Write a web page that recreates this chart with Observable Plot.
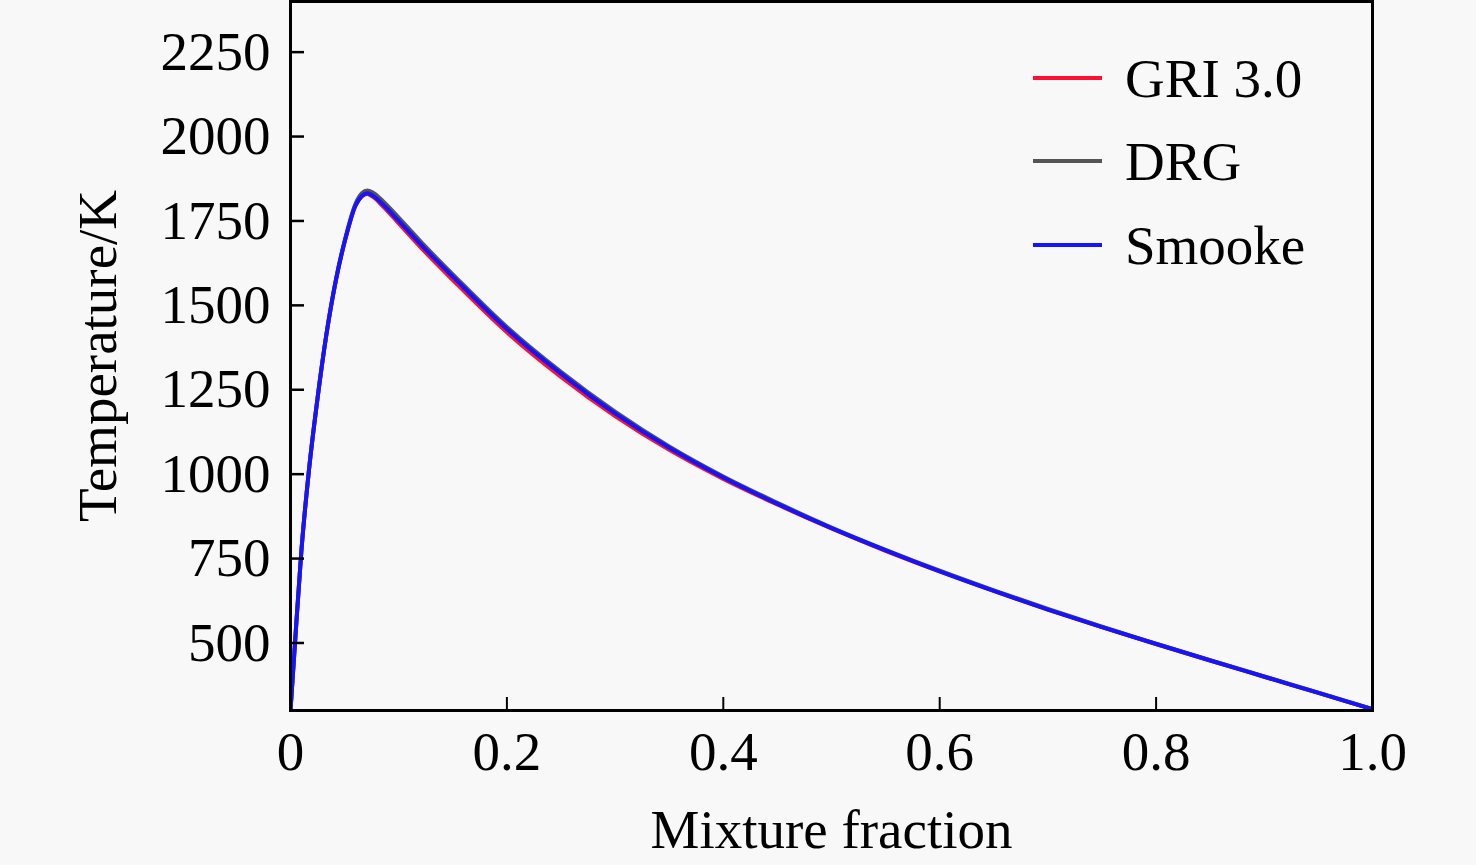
<!DOCTYPE html>
<html>
<head>
<meta charset="utf-8">
<script src="https://cdn.jsdelivr.net/npm/d3@7"></script>
<script src="https://cdn.jsdelivr.net/npm/@observablehq/plot@0.6"></script>
<style>
  html, body { margin: 0; padding: 0; background: #f8f8f8; }
  #wrap { position: relative; width: 1476px; height: 865px; }
  #legend { position: absolute; left: 0; top: 0; pointer-events: none; }
</style>
</head>
<body>
<div id="wrap"></div>
<script>
// ---- data ----
const mixtureFraction = [0, 0.005, 0.01, 0.017, 0.025, 0.033, 0.042, 0.051, 0.06, 0.066, 0.071, 0.076, 0.085, 0.10, 0.125, 0.15, 0.20, 0.25, 0.30, 0.35, 0.40, 0.45, 0.50, 0.55, 0.60, 0.65, 0.70, 0.75, 0.80, 0.85, 0.90, 0.95, 1.0];
const tempGRI    = [300, 540, 770, 1010, 1225, 1410, 1575, 1700, 1795, 1823, 1830, 1822, 1795, 1743, 1656, 1575, 1420, 1288, 1172, 1072, 986, 910, 839, 773, 712, 654, 599, 547, 497, 448, 400, 352, 304];
const tempDRG    = [300, 540, 770, 1010, 1225, 1410, 1577, 1703, 1800, 1832, 1840, 1834, 1810, 1760, 1673, 1592, 1436, 1303, 1185, 1082, 993, 915, 842, 776, 714, 656, 601, 548, 498, 449, 401, 353, 304];
const tempSmooke = [300, 540, 770, 1010, 1225, 1410, 1575, 1700, 1795, 1824, 1832, 1825, 1800, 1750, 1665, 1585, 1430, 1298, 1180, 1078, 990, 912, 840, 774, 712, 654, 599, 547, 497, 448, 400, 352, 304];
const seriesNames = ["GRI 3.0", "DRG", "Smooke"];
const seriesColors = ["#ff1030", "#555555", "#1414ff"];
const xTicks = [0, 0.2, 0.4, 0.6, 0.8, 1.0];
const xTickLabels = ["0", "0.2", "0.4", "0.6", "0.8", "1.0"];
const yTicks = [500, 750, 1000, 1250, 1500, 1750, 2000, 2250];

const allSeries = [tempGRI, tempDRG, tempSmooke];
const rows = (vals) => mixtureFraction.map((x, i) => ({x, T: vals[i]}));
const xLabelMap = new Map(xTicks.map((t, i) => [t, xTickLabels[i]]));

const W = 1476, H = 865;
const mL = 290, mR = 104, mT = 1, mB = 155;
const frameW = W - mL - mR, frameH = H - mT - mB;
const font = "'Liberation Serif', 'Times New Roman', Times, serif";

const chart = Plot.plot({
  width: W, height: H,
  marginLeft: mL, marginRight: mR, marginTop: mT, marginBottom: mB,
  style: {background: "#f8f8f8", fontFamily: font, fontSize: "55px", color: "black", overflow: "visible"},
  x: {domain: [0, 1]},
  y: {domain: [300, 2400]},
  marks: [
    Plot.axisX(xTicks, {tickSize: 0, tickPadding: 20, tickFormat: d => xLabelMap.get(d), label: "Mixture fraction", labelAnchor: "center", labelOffset: 137, labelArrow: "none", fontSize: 55}),
    Plot.axisY(yTicks, {tickSize: 0, tickPadding: 20, tickFormat: d => String(d), label: "Temperature/K", labelAnchor: "center", labelOffset: 214, labelArrow: "none", fontSize: 55}),
    ...allSeries.map((vals, k) => Plot.line(rows(vals), {x: "x", y: "T", stroke: seriesColors[k], strokeWidth: 4, curve: "monotone-x", clip: true})),
    Plot.tickY(yTicks, {y: d => d, stroke: "black", strokeWidth: 2.5, insetRight: frameW - 14}),
    Plot.tickX(xTicks, {x: d => d, stroke: "black", strokeWidth: 2, insetTop: frameH - 13}),
    Plot.frame({stroke: "black", strokeWidth: 3})
  ]
});
document.getElementById("wrap").appendChild(chart);

// ---- legend overlay ----
const ns = "http://www.w3.org/2000/svg";
const lg = document.createElementNS(ns, "svg");
lg.setAttribute("id", "legend");
lg.setAttribute("width", W);
lg.setAttribute("height", H);
const rowY = [78, 161, 245];
seriesNames.forEach((name, k) => {
  const ln = document.createElementNS(ns, "line");
  ln.setAttribute("x1", 1033); ln.setAttribute("x2", 1102);
  ln.setAttribute("y1", rowY[k]); ln.setAttribute("y2", rowY[k]);
  ln.setAttribute("stroke", seriesColors[k]);
  ln.setAttribute("stroke-width", 4);
  lg.appendChild(ln);
  const tx = document.createElementNS(ns, "text");
  tx.setAttribute("x", 1125);
  tx.setAttribute("y", rowY[k] + 19);
  tx.setAttribute("font-family", font);
  tx.setAttribute("font-size", 55);
  tx.setAttribute("fill", "black");
  tx.textContent = name;
  lg.appendChild(tx);
});
document.getElementById("wrap").appendChild(lg);
</script>
</body>
</html>
